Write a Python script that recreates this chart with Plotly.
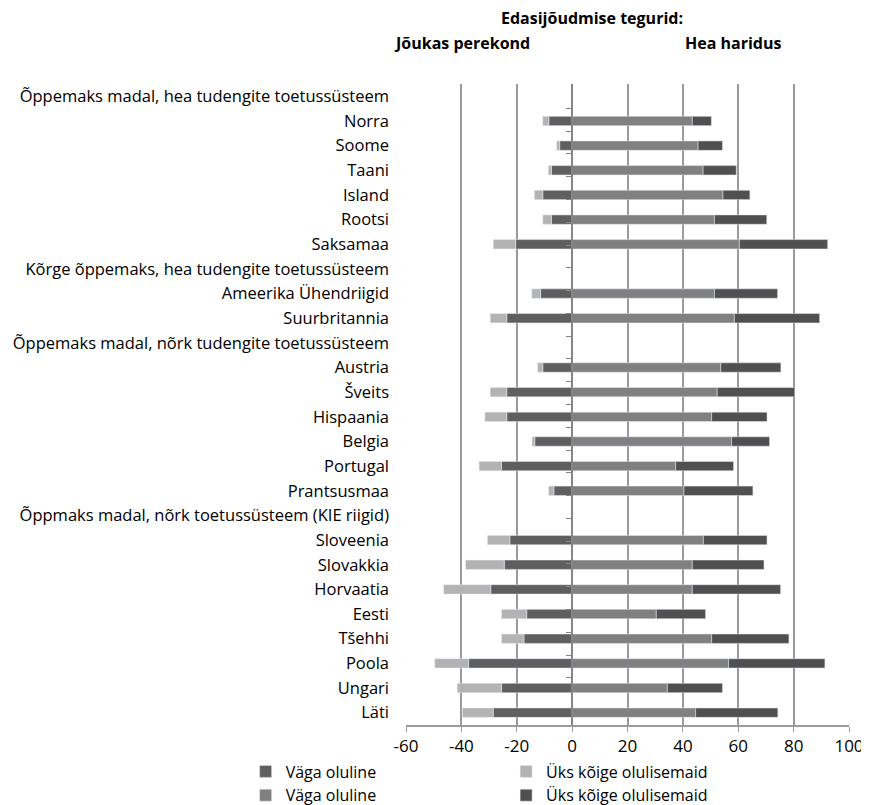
import plotly.graph_objects as go

categories = [
    "Õppemaks madal, hea tudengite toetussüsteem",
    "Norra", "Soome", "Taani", "Island", "Rootsi", "Saksamaa",
    "Kõrge õppemaks, hea tudengite toetussüsteem",
    "Ameerika Ühendriigid", "Suurbritannia",
    "Õppemaks madal, nõrk tudengite toetussüsteem",
    "Austria", "Šveits", "Hispaania", "Belgia", "Portugal", "Prantsusmaa",
    "Õppmaks madal, nõrk toetussüsteem (KIE riigid)",
    "Sloveenia", "Slovakkia", "Horvaatia", "Eesti", "Tšehhi", "Poola", "Ungari", "Läti",
]

# Jõukas perekond (shown to the left of zero)
wealth_very_important = [None, 8.4, 4.5, 7.5, 10.6, 7.5, 20.4, None, 11.4, 23.6, None,
                         10.6, 23.6, 23.6, 13.5, 25.5, 6.6, None,
                         22.5, 24.5, 29.4, 16.4, 17.4, 37.4, 25.5, 28.5]
wealth_most_important = [None, 2.2, 1.1, 1.1, 3.0, 3.1, 8.1, None, 3.2, 6.0, None,
                         1.9, 6.0, 7.9, 1.0, 8.1, 1.9, None,
                         8.1, 14.0, 17.0, 9.1, 8.1, 12.2, 16.0, 11.1]
# Hea haridus (shown to the right of zero)
edu_very_important = [None, 43.4, 45.5, 47.3, 54.5, 51.4, 60.4, None, 51.4, 58.6, None,
                      53.7, 52.4, 50.4, 57.6, 37.4, 40.4, None,
                      47.4, 43.4, 43.4, 30.4, 50.4, 56.5, 34.4, 44.6]
edu_most_important = [None, 6.9, 8.8, 12.0, 9.7, 18.9, 31.9, None, 22.8, 30.8, None,
                      21.7, 28.0, 20.0, 13.7, 20.9, 24.9, None,
                      23.0, 25.9, 31.9, 17.8, 27.9, 34.8, 19.9, 29.7]

x_ticks = [-60, -40, -20, 0, 20, 40, 60, 80, 100]
x_tick_labels = [str(v) for v in x_ticks]

neg = lambda arr: [None if v is None else -v for v in arr]

FONT = "Open Sans"
BW = 0.38

fig = go.Figure()
fig.add_trace(go.Bar(y=categories, x=neg(wealth_very_important), orientation="h",
                     name="Väga oluline", marker_color="#5f5f5f", width=BW,
                     legend="legend", legendgroup="a"))
fig.add_trace(go.Bar(y=categories, x=neg(wealth_most_important), orientation="h",
                     name="Üks kõige olulisemaid", marker_color="#b3b3b3", width=BW,
                     legend="legend2", legendgroup="b"))
fig.add_trace(go.Bar(y=categories, x=edu_very_important, orientation="h",
                     name="Väga oluline", marker_color="#808080", width=BW,
                     legend="legend", legendgroup="c"))
fig.add_trace(go.Bar(y=categories, x=edu_most_important, orientation="h",
                     name="Üks kõige olulisemaid", marker_color="#505050", width=BW,
                     legend="legend2", legendgroup="d"))
# invisible helper trace for the zero-position category axis
fig.add_trace(go.Scatter(y=categories, x=[0] * len(categories), yaxis="y2",
                         mode="markers", marker=dict(opacity=0), showlegend=False,
                         hoverinfo="skip"))

legend_common = dict(orientation="v", yanchor="top", xanchor="left",
                     traceorder="normal", tracegroupgap=4,
                     font=dict(size=16), itemwidth=30, bgcolor="rgba(0,0,0,0)")

fig.update_layout(
    width=869, height=805,
    margin=dict(l=398, r=28, t=76, b=88, autoexpand=False),
    paper_bgcolor="white", plot_bgcolor="white",
    barmode="relative",
    font=dict(family=FONT, size=16.5, color="#000000"),
    xaxis=dict(range=[-60, 100], tickvals=x_ticks, ticktext=x_tick_labels,
               showgrid=True, automargin=False,
               gridcolor="#9a9a9a", gridwidth=1.5, zeroline=False,
               showline=True, linecolor="#9a9a9a", linewidth=1.5,
               ticks="outside", ticklen=5, tickcolor="#9a9a9a",
               tickfont=dict(size=17), fixedrange=True),
    yaxis=dict(categoryorder="array", categoryarray=categories,
               autorange="reversed", ticks="", showline=False, automargin=False,
               tickfont=dict(size=16.5), ticklabelstandoff=16),
    yaxis2=dict(overlaying="y", anchor="free", position=0.375, side="left",
                categoryorder="array", categoryarray=categories,
                autorange="reversed", showticklabels=False, automargin=False,
                ticks="outside", ticklen=5, tickcolor="#868686",
                tickson="boundaries", showline=True, linecolor="#868686",
                linewidth=1.5, showgrid=False),
    legend=dict(x=-0.362, y=-0.046, **legend_common),
    legend2=dict(x=0.226, y=-0.046, **legend_common),
    annotations=[
        dict(text="<b>Edasijõudmise tegurid:</b>", x=0.42, y=1.103, xref="paper",
             yref="paper", xanchor="center", yanchor="middle", showarrow=False,
             font=dict(size=16)),
        dict(text="<b>Jõukas perekond</b>", x=0.126, y=1.064, xref="paper",
             yref="paper", xanchor="center", yanchor="middle", showarrow=False,
             font=dict(size=16)),
        dict(text="<b>Hea haridus</b>", x=0.738, y=1.064, xref="paper",
             yref="paper", xanchor="center", yanchor="middle", showarrow=False,
             font=dict(size=16)),
    ],
)

fig.write_html("out.html")
